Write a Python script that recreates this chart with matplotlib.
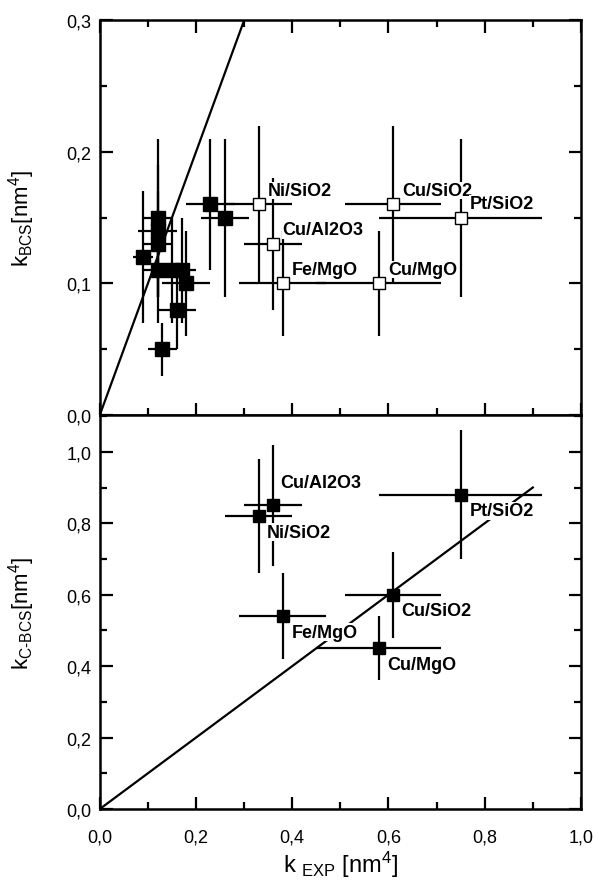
import matplotlib
matplotlib.use("Agg")
import matplotlib.pyplot as plt
from matplotlib.ticker import MultipleLocator, FuncFormatter

plt.rcParams['font.family'] = ['Liberation Sans', 'DejaVu Sans']
plt.rcParams['mathtext.fontset'] = 'custom'
plt.rcParams['mathtext.rm'] = 'Liberation Sans'
plt.rcParams['mathtext.it'] = 'Liberation Sans:italic'
plt.rcParams['mathtext.bf'] = 'Liberation Sans:bold'

# painel superior - pontos cheios (sem nome)
top_x = [0.09, 0.12, 0.12, 0.12, 0.12, 0.15, 0.17, 0.18, 0.16, 0.13, 0.23, 0.26]
top_y = [0.12, 0.15, 0.14, 0.13, 0.11, 0.11, 0.11, 0.10, 0.08, 0.05, 0.16, 0.15]
top_xerr = [0.02, 0.03, 0.04, 0.03, 0.03, 0.03, 0.03, 0.05, 0.04, 0.03, 0.05, 0.05]
top_yerr = [0.05, 0.06, 0.05, 0.04, 0.04, 0.04, 0.04, 0.04, 0.03, 0.02, 0.05, 0.06]

# painel superior - pontos abertos (com nome)
sys_names = ['Ni/SiO2', 'Cu/Al2O3', 'Fe/MgO', 'Cu/SiO2', 'Cu/MgO', 'Pt/SiO2']
exp_x = [0.33, 0.36, 0.38, 0.61, 0.58, 0.75]
exp_xerr = [0.07, 0.06, 0.09, 0.10, 0.13, 0.17]
bcs_y = [0.16, 0.13, 0.10, 0.16, 0.10, 0.15]
bcs_yerr = [0.06, 0.05, 0.04, 0.06, 0.04, 0.06]

# painel inferior
cbcs_y = [0.82, 0.85, 0.54, 0.60, 0.45, 0.88]
cbcs_yerr = [0.16, 0.17, 0.12, 0.12, 0.09, 0.18]

line_x = [0.0, 0.9]
line_y = [0.0, 0.9]

# deslocamento dos rotulos (pixels)
top_offsets = [(9, 14)] * 6
bottom_offsets = [(8, -16), (7, 23), (9, -16), (8, -16), (8, -16), (9, -16)]

comma = FuncFormatter(lambda v, p: f"{v:.1f}".replace('.', ','))

fig = plt.figure(figsize=(5.94, 8.87), dpi=100)
ax1 = fig.add_axes([0.168, 0.531, 0.81, 0.445])
ax2 = fig.add_axes([0.168, 0.0868, 0.81, 0.4442])

err_kw = dict(fmt='none', ecolor='black', elinewidth=1.6, capsize=0)

ax1.plot(line_x, line_y, color='black', lw=1.6, zorder=2)
ax1.errorbar(top_x, top_y, xerr=top_xerr, yerr=top_yerr, **err_kw, zorder=3)
ax1.plot(top_x, top_y, 's', color='black', ms=10, zorder=5)
ax1.errorbar(exp_x, bcs_y, xerr=exp_xerr, yerr=bcs_yerr, **err_kw, zorder=3)
ax1.plot(exp_x, bcs_y, 's', mfc='white', mec='black', mew=1.0, ms=9, zorder=6)
for name, x, y, off in zip(sys_names, exp_x, bcs_y, top_offsets):
    ax1.annotate(name, (x, y), xytext=off, textcoords='offset pixels',
                 fontsize=13, fontweight='bold', va='center', ha='left',
                 bbox=dict(facecolor='white', edgecolor='none', pad=0.3), zorder=4)

ax2.plot(line_x, line_y, color='black', lw=1.6, zorder=2)
ax2.errorbar(exp_x, cbcs_y, xerr=exp_xerr, yerr=cbcs_yerr, **err_kw, zorder=3)
ax2.plot(exp_x, cbcs_y, 's', color='black', ms=9, zorder=5)
for name, x, y, off in zip(sys_names, exp_x, cbcs_y, bottom_offsets):
    ax2.annotate(name, (x, y), xytext=off, textcoords='offset pixels',
                 fontsize=13, fontweight='bold', va='center', ha='left',
                 bbox=dict(facecolor='white', edgecolor='none', pad=0.3), zorder=4)

ax1.set_xlim(0, 1.0)
ax1.set_ylim(0, 0.3)
ax2.set_xlim(0, 1.0)
ax2.set_ylim(0, 1.103)

for ax in (ax1, ax2):
    for s in ax.spines.values():
        s.set_linewidth(1.8)
    ax.xaxis.set_major_locator(MultipleLocator(0.2))
    ax.xaxis.set_minor_locator(MultipleLocator(0.1))
    ax.xaxis.set_major_formatter(comma)
    ax.yaxis.set_major_formatter(comma)
    ax.tick_params(which='major', direction='in', length=9, width=1.6, labelsize=13, pad=6)
    ax.tick_params(which='minor', direction='in', length=5, width=1.6)

ax1.yaxis.set_major_locator(MultipleLocator(0.1))
ax1.yaxis.set_minor_locator(MultipleLocator(0.05))
ax1.tick_params(which='both', top=True, right=True, labelbottom=False)
ax2.yaxis.set_major_locator(MultipleLocator(0.2))
ax2.yaxis.set_minor_locator(MultipleLocator(0.1))
ax2.tick_params(which='both', top=False, right=True)
ax2.tick_params(axis='x', which='major', pad=14)
ax2.set_yticks([0, 0.2, 0.4, 0.6, 0.8, 1.0])

ax1.set_ylabel(r'k$_{\mathrm{BCS}}$[nm$^4$]', fontsize=16)
ax2.set_ylabel(r'k$_{\mathrm{C\text{-}BCS}}$[nm$^4$]', fontsize=16)
ax2.set_xlabel(r'k $_{\mathrm{EXP}}$ [nm$^4$]', fontsize=17)
ax1.yaxis.set_label_coords(-0.13, 0.5)
ax2.yaxis.set_label_coords(-0.13, 0.5)
ax2.xaxis.set_label_coords(0.5, -0.1)

fig.savefig('out.png', dpi=100)
